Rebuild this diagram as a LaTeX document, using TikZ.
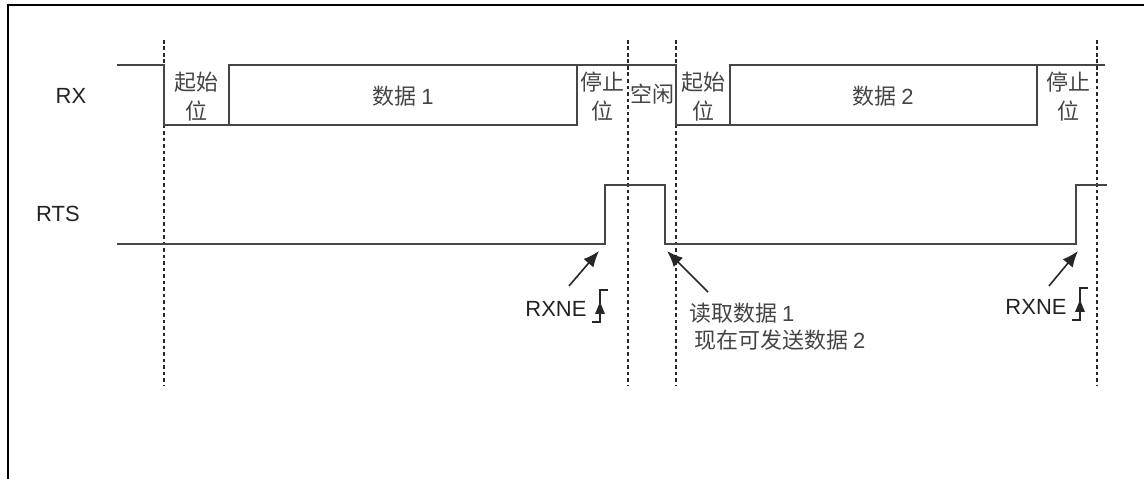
\documentclass[tikz,border=0pt]{standalone}
\usepackage{fontspec}
\setmainfont{Liberation Sans}
\newfontfamily\cjk{Noto Sans CJK SC}
\usetikzlibrary{arrows.meta}
\definecolor{WaveGray}{RGB}{70,70,70}
\definecolor{TextGray}{RGB}{35,35,35}

\begin{document}
\begin{tikzpicture}[x=0.02cm, y=-0.02cm,
    wave/.style={line width=1.2pt, WaveGray},
    guide/.style={line width=0.85pt, dash pattern=on 2.2pt off 1.5pt, black!85},
    sig/.style={font=\fontsize{12.5}{15}\selectfont, TextGray, inner sep=1pt},
    field/.style={font=\cjk\fontsize{12.5}{16.5}\selectfont, TextGray!85, align=center, inner sep=0pt},
    pointer/.style={-{Latex[length=3.2mm,width=2.6mm]}, line width=0.9pt, black!85}]
  \useasboundingbox (0,0) rectangle (1144,479);
  % frame
  \draw[line width=1.2pt] (8,479) -- (8,5) -- (1144,5);

  % bit boundaries
  \foreach \x in {164,628,676,1097}
    \draw[guide] (\x,40) -- (\x,385);

  % RX line
  \draw[wave] (117,65) -- (164,65) -- (164,125) -- (577,125) -- (577,65) -- (676,65)
    -- (676,125) -- (1037,125) -- (1037,65) -- (1105,65);
  \draw[wave] (229,125) -- (229,65) -- (577,65);
  \draw[wave] (730,125) -- (730,65) -- (1037,65);

  % RTS line
  \draw[wave] (117,244) -- (605,244) -- (605,185) -- (665,185) -- (665,244)
    -- (1076,244) -- (1076,185) -- (1107,185);

  \node[sig] (rx) at (71,96) {RX};
  \node[sig] (rts) at (58,214) {RTS};

  \node[field] (start1) at (196,97) {起始\\位};
  \node[field] (data1) at (403,96) {数据 {\normalfont 1}};
  \node[field] (stop1) at (602,97) {停止\\位};
  \node[field] (idle) at (652,94) {空闲};
  \node[field] (start2) at (703,97) {起始\\位};
  \node[field] (data2) at (883,96) {数据 {\normalfont 2}};
  \node[field] (stop2) at (1068,97) {停止\\位};

  % RXNE flags
  \node[sig] (rxne1) at (556,309) {RXNE};
  \node[sig] (rxne2) at (1036,307) {RXNE};
  \foreach \x/\y in {600/306,1080/304} {
    \draw[line width=1pt, black!85] (\x-8,\y+16) -- (\x,\y+16) -- (\x,\y-16) -- (\x+8,\y-16);
    \fill[black!85] (\x,\y-4) -- (\x-5,\y+8) -- (\x+5,\y+8) -- cycle;
  }

  \node[field, anchor=west] (read1) at (689,313) {读取数据 {\normalfont 1}};
  \node[field, anchor=west] (send2) at (694,340) {现在可发送数据 {\normalfont 2}};

  \coordinate (rise1) at (599,251);
  \coordinate (fall1) at (667,251);
  \coordinate (rise2) at (1078,251);
  \coordinate (tail1) at (569,286);
  \coordinate (tail2) at (708,292);
  \coordinate (tail3) at (1049,286);
  \draw[pointer] (tail1) -- (rise1);
  \draw[pointer] (tail2) -- (fall1);
  \draw[pointer] (tail3) -- (rise2);
\end{tikzpicture}
\end{document}
